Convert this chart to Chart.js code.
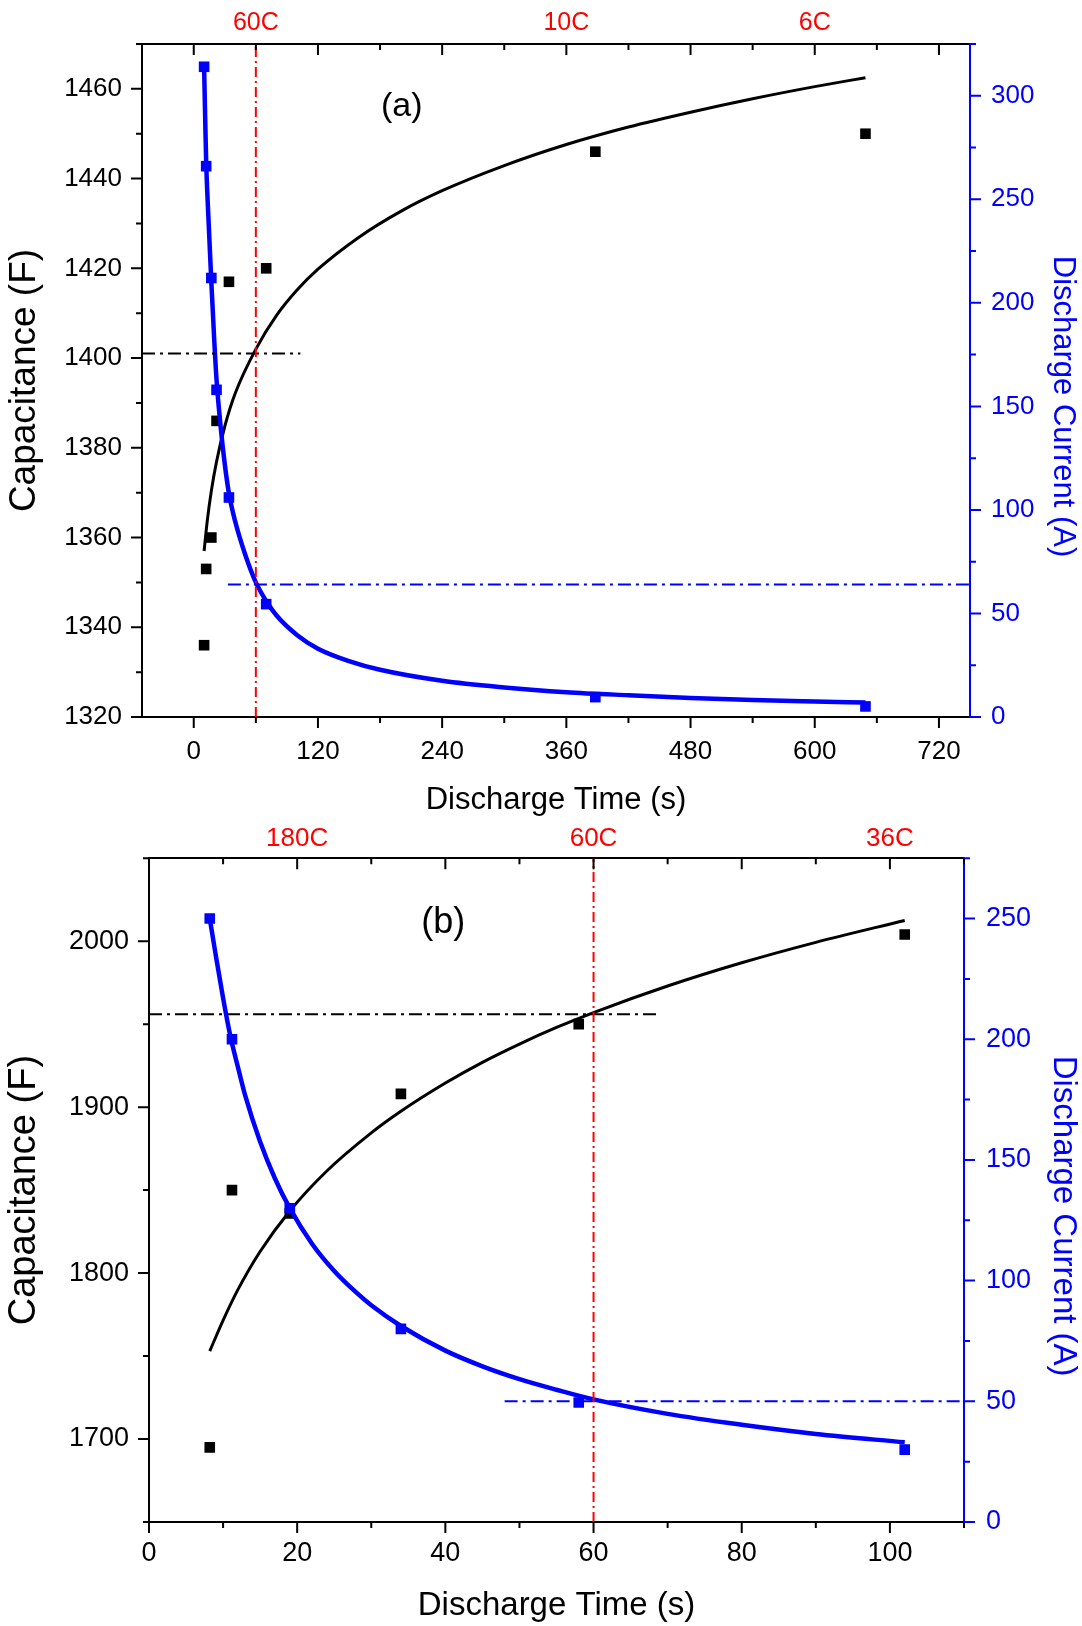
<!DOCTYPE html>
<html>
<head>
<meta charset="utf-8">
<script src="https://cdn.jsdelivr.net/npm/chart.js@4.4.0/dist/chart.umd.min.js"></script>
<style>
html,body{margin:0;padding:0;background:#fff;width:1082px;height:1626px;overflow:hidden;}
#ca{position:absolute;left:0;top:0;display:block;}
#cb{position:absolute;left:0;top:820px;display:block;}
</style>
</head>
<body>
<canvas id="ca" width="1082" height="820"></canvas>
<canvas id="cb" width="1082" height="806"></canvas>
<script>
// ---------------- Panel (a) ----------------
const timeA = [10, 12, 17, 22, 34, 70, 388, 649];
const capA  = [1336, 1353, 1360, 1386, 1417, 1420, 1446, 1450];
const curA  = [314, 266, 212, 158, 106, 54.5, 9.6, 5.1];
const capFitTimeA = [10, 13, 17, 22, 30, 40, 60, 80, 100, 120, 160, 200, 240, 300, 360, 420, 480, 540, 600, 649];
const capFitA     = [1357, 1363.6, 1370.4, 1376.9, 1384.8, 1392.1, 1402, 1409.5, 1415.2, 1419.8, 1427, 1432.7, 1437.3, 1442.9, 1447.6, 1451.5, 1454.8, 1457.8, 1460.5, 1462.5];
const curFitTimeA = [10, 11, 12, 14, 17, 20, 22, 26, 30, 34, 40, 50, 60, 70, 80, 100, 120, 150, 180, 240, 300, 360, 420, 480, 540, 600, 649];
const curFitA     = [314, 290, 268, 243, 210, 180, 163, 140, 122, 108, 94.5, 78, 65, 56, 49, 39.5, 33, 27, 22.8, 17.5, 14.3, 12, 10.5, 9.2, 8.2, 7.5, 7];
const capLevelA = 1401, capLevelSpanA = [-50, 103];
const curLevelA = 64,   curLevelSpanA = [33, 750];
const rateTimeA = 60;
const xTicksA  = [0, 120, 240, 360, 480, 600, 720];
const yTicksA  = [1320, 1340, 1360, 1380, 1400, 1420, 1440, 1460];
const y2TicksA = [0, 50, 100, 150, 200, 250, 300];
const rateTicksA  = [60, 360, 600];
const rateLabelsA = ['60C', '10C', '6C'];

// ---------------- Panel (b) ----------------
const timeB = [8.2, 11.2, 19, 34, 58, 102];
const capB  = [1695, 1850, 1836, 1908, 1950, 2004];
const curB  = [250, 200, 130, 80, 49.5, 30];
const capFitTimeB = [8.2, 10, 12, 15, 19, 24, 30, 34, 40, 45, 50, 55, 60, 70, 80, 90, 102];
const capFitB     = [1753, 1771.5, 1790, 1813, 1837.4, 1861.5, 1884.5, 1897.5, 1914.5, 1927, 1938, 1948, 1957, 1973, 1987, 1999.3, 2012.5];
const curFitTimeB = [8.2, 9, 10, 11, 12, 13, 15, 17, 19, 22, 25, 28, 30, 34, 40, 45, 50, 55, 60, 70, 80, 90, 102];
const curFitB     = [250, 235, 217, 201, 188.5, 176.5, 157.5, 142.3, 130, 115.3, 104, 95, 89.8, 81.2, 71, 64.5, 59.2, 54.8, 50.8, 44.8, 40.3, 36.5, 33];
const capLevelB = 1956, capLevelSpanB = [0, 69];
const curLevelB = 50,   curLevelSpanB = [48, 110];
const rateTimeB = 60;
const xTicksB  = [0, 20, 40, 60, 80, 100];
const yTicksB  = [1700, 1800, 1900, 2000];
const y2TicksB = [0, 50, 100, 150, 200, 250];
const rateTicksB  = [20, 60, 100];
const rateLabelsB = ['180C', '60C', '36C'];

const FONT = "'Liberation Sans', Arial, Helvetica, sans-serif";
const W = 1082;

function pts(xs, ys) { return xs.map((x, i) => ({x: x, y: ys[i]})); }

function decorPlugin(P) {
  return {
    id: 'decor',
    afterDraw(chart) {
      const ctx = chart.ctx, a = chart.chartArea, S = chart.scales;
      const mids = (t, lo, hi) => {
        const out = [], st = t[1] - t[0];
        for (let v = t[0] - st / 2; v <= hi + 1e-9; v += st) if (v >= lo - 1e-9) out.push(v);
        return out;
      };
      const MAJ = 11, MIN = 6;
      ctx.save();
      ctx.lineWidth = 2;
      ctx.lineCap = 'butt';
      function draw(scale, vals, len, side, color) {
        ctx.strokeStyle = color;
        ctx.beginPath();
        vals.forEach(v => {
          const p = scale.getPixelForValue(v);
          if (side === 'bottom') { ctx.moveTo(p, a.bottom); ctx.lineTo(p, a.bottom + len); }
          else if (side === 'top') { ctx.moveTo(p, a.top); ctx.lineTo(p, a.top + len); }
          else if (side === 'left') { ctx.moveTo(a.left, p); ctx.lineTo(a.left - len, p); }
          else { ctx.moveTo(a.right, p); ctx.lineTo(a.right + len, p); }
        });
        ctx.stroke();
      }
      const xm = mids(P.xTicks, P.xMin, P.xMax);
      draw(S.x, P.xTicks, MAJ, 'bottom', '#000');
      draw(S.x, xm, MIN, 'bottom', '#000');
      draw(S.x, P.xTicks, MAJ, 'top', '#000');
      draw(S.x, xm, MIN, 'top', '#000');
      draw(S.y, P.yTicks, MAJ, 'left', '#000');
      draw(S.y, mids(P.yTicks, P.yMin, P.yMax), MIN, 'left', '#000');
      draw(S.y2, P.y2Ticks, MAJ, 'right', '#0000ff');
      draw(S.y2, mids(P.y2Ticks, P.y2Min, P.y2Max), MIN, 'right', '#0000ff');

      // panel tag
      ctx.fillStyle = '#000';
      ctx.font = P.tagSize + 'px ' + FONT;
      ctx.textAlign = 'center';
      ctx.textBaseline = 'middle';
      ctx.fillText(P.tag, S.x.getPixelForValue(P.tagPos[0]), S.y.getPixelForValue(P.tagPos[1]));

      // right axis title
      ctx.save();
      ctx.translate(P.rTitleX, (a.top + a.bottom) / 2 + P.rTitleShift);
      ctx.rotate(Math.PI / 2);
      ctx.fillStyle = '#0000ff';
      ctx.font = P.rTitleSize + 'px ' + FONT;
      ctx.fillText('Discharge Current (A)', 0, 0);
      ctx.restore();
      ctx.restore();
    }
  };
}

function buildPanel(id, P) {
  const H = P.height;
  const F = s => ({family: FONT, size: s});
  const fix = vals => s => { s.ticks = vals.map(v => ({value: v})); };
  const plain = v => String(v);
  const grid = {display: true, drawOnChartArea: false, drawTicks: false};
  const datasets = [
    {data: [{x: P.rate, y: P.yMin}, {x: P.rate, y: P.yMax}], xAxisID: 'x', yAxisID: 'y', showLine: true,
     borderColor: '#ff0000', borderWidth: 2, borderDash: [10, 4, 2, 4], pointRadius: 0},
    {data: [{x: P.curSpan[0], y: P.curLevel}, {x: P.curSpan[1], y: P.curLevel}], xAxisID: 'x', yAxisID: 'y2', showLine: true,
     borderColor: '#0000ff', borderWidth: 2, borderDash: [13, 5, 3, 5], pointRadius: 0},
    {data: [{x: P.capSpan[0], y: P.capLevel}, {x: P.capSpan[1], y: P.capLevel}], xAxisID: 'x', yAxisID: 'y', showLine: true,
     borderColor: '#000000', borderWidth: 2, borderDash: [13, 5, 3, 5], pointRadius: 0},
    {data: pts(P.time, P.cur), xAxisID: 'x', yAxisID: 'y2', pointStyle: 'rect', pointRadius: 7.5,
     backgroundColor: '#0000ff', borderColor: '#0000ff', borderWidth: 0},
    {data: pts(P.curFitTime, P.curFit), xAxisID: 'x', yAxisID: 'y2', showLine: true, pointRadius: 0,
     borderColor: '#0000ff', borderWidth: 4.5, cubicInterpolationMode: 'monotone', fill: false},
    {data: pts(P.time, P.cap), xAxisID: 'x', yAxisID: 'y', pointStyle: 'rect', pointRadius: 7.5,
     backgroundColor: '#000000', borderColor: '#000000', borderWidth: 0},
    {data: pts(P.capFitTime, P.capFit), xAxisID: 'x', yAxisID: 'y', showLine: true, pointRadius: 0,
     borderColor: '#000000', borderWidth: 3, cubicInterpolationMode: 'monotone', fill: false}
  ];
  return new Chart(document.getElementById(id), {
    type: 'scatter',
    data: {datasets: datasets},
    options: {
      responsive: false, animation: false, devicePixelRatio: 1,
      layout: {padding: 0},
      plugins: {legend: {display: false}, tooltip: {enabled: false}},
      scales: {
        x: {type: 'linear', position: 'bottom', min: P.xMin, max: P.xMax,
            afterBuildTicks: fix(P.xTicks), afterFit: s => { s.height = H - P.area.bottom; },
            grid: grid, border: {display: true, color: '#000', width: 2},
            ticks: {color: '#000', font: F(P.tickSize), padding: P.pad.bottom, autoSkip: false, maxRotation: 0, minRotation: 0, callback: plain},
            title: {display: true, text: 'Discharge Time (s)', color: '#000', font: F(P.bTitleSize), padding: {top: 0, bottom: P.bTitlePad}}},
        x2: {type: 'linear', axis: 'x', position: 'top', min: P.xMin, max: P.xMax,
            afterBuildTicks: fix(P.rateTicks), afterFit: s => { s.height = P.area.top; },
            grid: grid, border: {display: true, color: '#000', width: 2},
            ticks: {color: '#ff0000', font: F(P.rateSize), padding: P.pad.top, autoSkip: false, maxRotation: 0, minRotation: 0,
                    callback: (v, i) => P.rateLabels[i]}},
        y: {type: 'linear', position: 'left', min: P.yMin, max: P.yMax,
            afterBuildTicks: fix(P.yTicks), afterFit: s => { s.width = P.area.left; },
            grid: grid, border: {display: true, color: '#000', width: 2},
            ticks: {color: '#000', font: F(P.tickSize), padding: P.pad.left, autoSkip: false, callback: plain},
            title: {display: true, text: 'Capacitance (F)', color: '#000', font: F(P.lTitleSize), padding: {top: P.lTitlePad, bottom: 0}}},
        y2: {type: 'linear', axis: 'y', position: 'right', min: P.y2Min, max: P.y2Max,
            afterBuildTicks: fix(P.y2Ticks), afterFit: s => { s.width = W - P.area.right; },
            grid: grid, border: {display: true, color: '#0000ff', width: 2},
            ticks: {color: '#0000ff', font: F(P.tickSize), padding: P.pad.right, autoSkip: false, callback: plain}}
      }
    },
    plugins: [decorPlugin(P)]
  });
}

buildPanel('ca', {
  height: 820, area: {left: 142, right: 970, top: 44, bottom: 717},
  xMin: -50, xMax: 750, yMin: 1320, yMax: 1470, y2Min: 0, y2Max: 325,
  xTicks: xTicksA, yTicks: yTicksA, y2Ticks: y2TicksA, rateTicks: rateTicksA, rateLabels: rateLabelsA,
  time: timeA, cap: capA, cur: curA, capFitTime: capFitTimeA, capFit: capFitA, curFitTime: curFitTimeA, curFit: curFitA,
  capLevel: capLevelA, capSpan: capLevelSpanA, curLevel: curLevelA, curSpan: curLevelSpanA, rate: rateTimeA,
  tickSize: 26, rateSize: 25, bTitleSize: 31, lTitleSize: 37, rTitleSize: 31,
  pad: {bottom: 19, top: 6, left: 20, right: 21}, bTitlePad: 1, lTitlePad: 3,
  rTitleX: 1063, rTitleShift: 26,
  tag: '(a)', tagPos: [201, 1456], tagSize: 34
});

buildPanel('cb', {
  height: 806, area: {left: 149, right: 964, top: 38, bottom: 702},
  xMin: 0, xMax: 110, yMin: 1650, yMax: 2050, y2Min: 0, y2Max: 275,
  xTicks: xTicksB, yTicks: yTicksB, y2Ticks: y2TicksB, rateTicks: rateTicksB, rateLabels: rateLabelsB,
  time: timeB, cap: capB, cur: curB, capFitTime: capFitTimeB, capFit: capFitB, curFitTime: curFitTimeB, curFit: curFitB,
  capLevel: capLevelB, capSpan: capLevelSpanB, curLevel: curLevelB, curSpan: curLevelSpanB, rate: rateTimeB,
  tickSize: 27, rateSize: 26, bTitleSize: 33, lTitleSize: 38, rTitleSize: 33,
  pad: {bottom: 15, top: 4, left: 20, right: 22}, bTitlePad: 0, lTitlePad: 2,
  rTitleX: 1063, rTitleShift: 26,
  tag: '(b)', tagPos: [39.7, 2011], tagSize: 36
});
</script>
</body>
</html>
